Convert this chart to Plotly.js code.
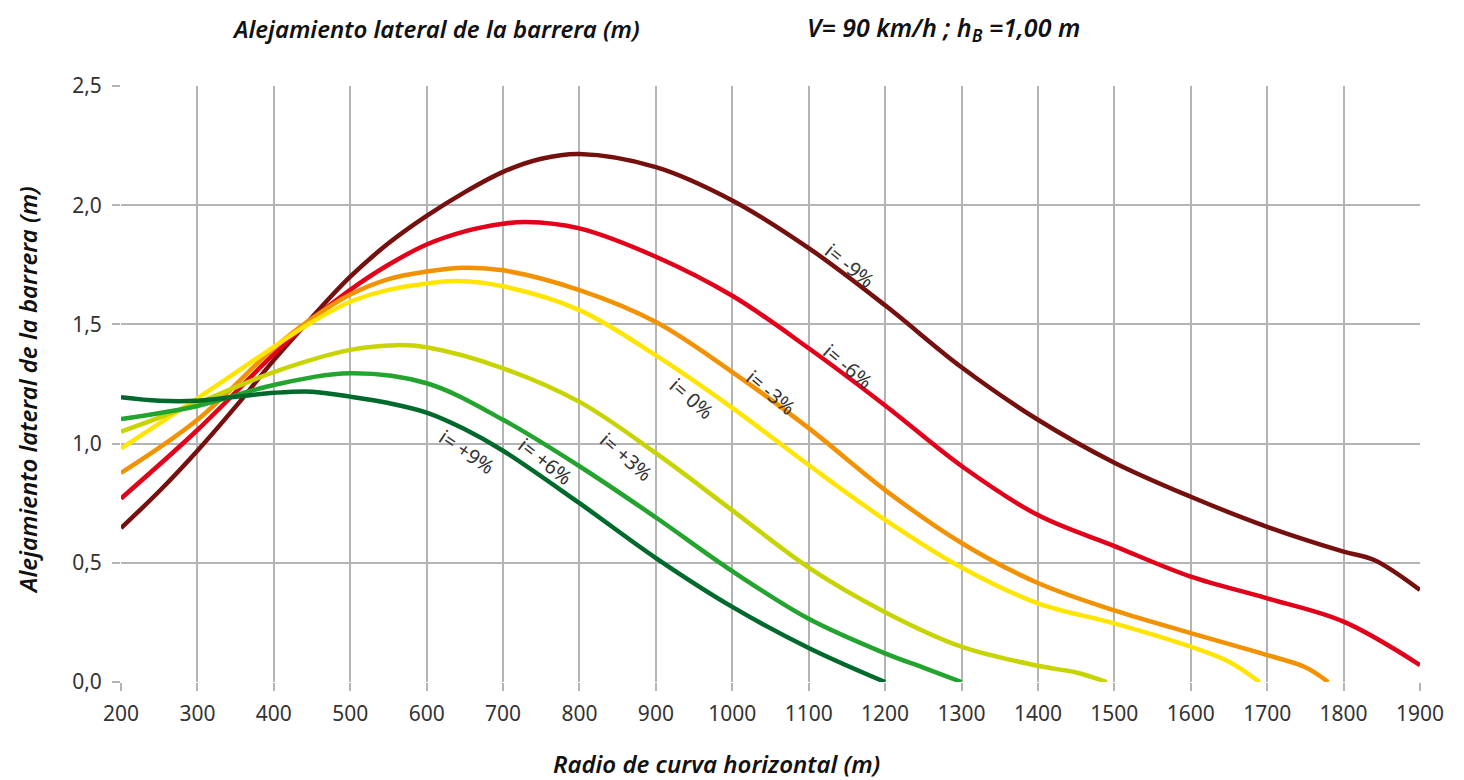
<!DOCTYPE html>
<html>
<head>
<meta charset="utf-8">
<script src="https://cdn.plot.ly/plotly-3.0.1.min.js"></script>
<style>html,body{margin:0;padding:0;background:#fff;}#chart{width:1464px;height:780px;}</style>
</head>
<body>
<div id="chart"></div>
<script>
// Data (radius in m, lateral offset in m)
const x_m9 = [200,250,300,350,400,450,500,550,600,650,700,750,800,900,1000,1100,1200,1300,1400,1500,1600,1700,1800,1840,1900];
const y_m9 = [0.646,0.80,0.97,1.155,1.35,1.53,1.70,1.84,1.955,2.055,2.14,2.195,2.215,2.16,2.02,1.82,1.58,1.32,1.10,0.92,0.777,0.651,0.547,0.512,0.386];

const x_m6 = [200,300,400,450,500,550,600,650,700,730,800,900,1000,1100,1200,1300,1400,1500,1600,1700,1800,1900];
const y_m6 = [0.77,1.057,1.375,1.52,1.645,1.75,1.835,1.89,1.922,1.93,1.903,1.784,1.62,1.40,1.16,0.906,0.70,0.57,0.442,0.351,0.253,0.071];

const x_m3 = [200,300,400,450,500,550,600,650,700,800,900,1000,1100,1200,1300,1400,1500,1600,1700,1750,1780];
const y_m3 = [0.877,1.10,1.40,1.525,1.625,1.69,1.722,1.738,1.727,1.644,1.51,1.30,1.065,0.805,0.583,0.415,0.30,0.205,0.113,0.062,0.0];

const x_0 = [200,300,400,450,500,550,600,640,700,800,900,1000,1100,1200,1300,1400,1500,1600,1650,1690];
const y_0 = [0.98,1.19,1.406,1.51,1.595,1.645,1.672,1.682,1.66,1.56,1.37,1.15,0.91,0.68,0.48,0.33,0.246,0.148,0.085,0.0];

const x_p3 = [200,300,400,500,560,600,700,800,900,1000,1100,1200,1300,1400,1450,1490];
const y_p3 = [1.05,1.17,1.30,1.393,1.413,1.404,1.316,1.175,0.96,0.72,0.48,0.293,0.148,0.068,0.04,0.0];

const x_p6 = [200,300,400,500,600,700,800,900,1000,1100,1200,1250,1300];
const y_p6 = [1.103,1.158,1.246,1.295,1.253,1.10,0.905,0.69,0.465,0.265,0.12,0.06,0.0];

const x_p9 = [200,250,300,400,450,500,550,600,650,700,800,900,1000,1100,1200];
const y_p9 = [1.195,1.18,1.18,1.213,1.218,1.197,1.17,1.13,1.06,0.97,0.75,0.52,0.315,0.143,0.0];

const seriesNames = ['i= -9%','i= -6%','i= -3%','i= 0%','i= +3%','i= +6%','i= +9%'];
const seriesColors = ['#76100F','#E2001A','#F39200','#FFE500','#C8D400','#23A42E','#006A2C'];
const seriesX = [x_m9,x_m6,x_m3,x_0,x_p3,x_p6,x_p9];
const seriesY = [y_m9,y_m6,y_m3,y_0,y_p3,y_p6,y_p9];

// label placement along each curve (data coords) and angle
const labelX = [1154,1152,1051,947,861,756,652];
const labelY = [1.749,1.325,1.216,1.191,0.948,0.927,0.965];
const labelAngle = [39,40,40,41,41,38,34];

const xTickVals = [200,300,400,500,600,700,800,900,1000,1100,1200,1300,1400,1500,1600,1700,1800,1900];
const yTickVals = [0,0.5,1,1.5,2,2.5];
const yTickText = ['0,0','0,5','1,0','1,5','2,0','2,5'];

const traces = seriesX.map((xs,i)=>({
  x: xs, y: seriesY[i], type:'scatter', mode:'lines', name: seriesNames[i],
  line:{color: seriesColors[i], width:4.5, shape:'spline', smoothing:1.0},
  hoverinfo:'x+y+name'
}));

const fontFam = '"Noto Sans", "Open Sans", sans-serif';
const annotations = seriesNames.map((t,i)=>({
  x: labelX[i], y: labelY[i], xref:'x', yref:'y', text: t, showarrow:false,
  textangle: labelAngle[i], font:{family: fontFam, size:20, color:'#333'}
}));
annotations.push(
  {xref:'paper', yref:'paper', x:0.0839, y:1.097, xanchor:'left', yanchor:'middle', showarrow:false,
   text:'Alejamiento lateral de la barrera (m)', font:{family:fontFam, size:24, color:'#111', style:'italic', weight:600}},
  {xref:'paper', yref:'paper', x:0.5266, y:1.097, xanchor:'left', yanchor:'middle', showarrow:false,
   text:'V= 90 km/h ; h<sub>B</sub> =1,00 m', font:{family:fontFam, size:25, color:'#111', style:'italic', weight:600}},
  {xref:'paper', yref:'paper', x:0.331, y:-0.136, xanchor:'left', yanchor:'middle', showarrow:false,
   text:'Radio de curva horizontal (m)', font:{family:fontFam, size:24, color:'#111', style:'italic', weight:600}},
  {xref:'paper', yref:'paper', x:-0.0716, y:0.49, xanchor:'center', yanchor:'middle', showarrow:false, textangle:-90,
   text:'Alejamiento lateral de la barrera (m)', font:{family:fontFam, size:24, color:'#111', style:'italic', weight:600}}
);

const layout = {
  width:1464, height:780,
  margin:{l:121, r:44, t:86, b:98},
  paper_bgcolor:'#fff', plot_bgcolor:'#fff',
  showlegend:false,
  xaxis:{range:[200,1900], tickvals:xTickVals, showgrid:true, gridcolor:'#b4b4b4', gridwidth:1.5,
    zeroline:false, showline:false, ticks:'outside', ticklen:8, tickcolor:'#b4b4b4', tickwidth:1.5,
    ticklabelstandoff:5,
    tickfont:{family:fontFam, size:21, color:'#333'}, fixedrange:true},
  yaxis:{range:[0,2.5], tickvals:yTickVals, ticktext:yTickText, showgrid:true, gridcolor:'#b4b4b4', gridwidth:1.5,
    zeroline:false, showline:false, ticks:'outside', ticklen:8, tickcolor:'#b4b4b4', tickwidth:1.5,
    ticklabelstandoff:6,
    tickfont:{family:fontFam, size:21, color:'#333'}, fixedrange:true},
  annotations: annotations
};

Plotly.newPlot('chart', traces, layout, {displayModeBar:false});
</script>
</body>
</html>
